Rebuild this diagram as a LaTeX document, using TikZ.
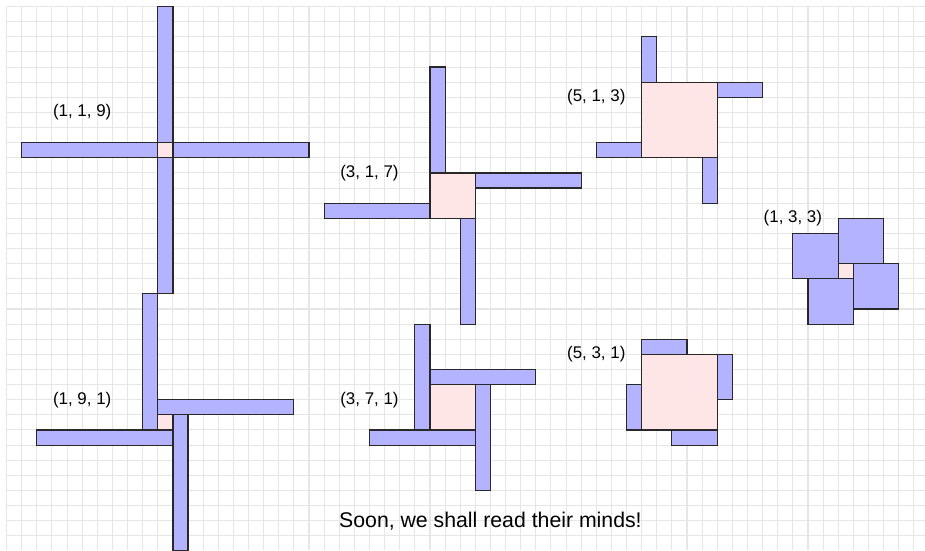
\documentclass[tikz,border=0pt]{standalone}
\usepackage{fontspec}
\setmainfont{Liberation Sans}
\definecolor{pwblue}{RGB}{179,179,255}
\definecolor{pwpink}{RGB}{255,230,230}
\definecolor{pwedge}{RGB}{40,40,40}
\definecolor{pwgrid}{RGB}{230,230,230}

\begin{document}
\begin{tikzpicture}[x=0.5cm, y=-0.5cm,
        gridline/.style={pwgrid, line width=1pt},
        arm/.style={fill=pwblue, draw=pwedge, line width=1.1pt},
        hole/.style={fill=pwpink, draw=pwedge, line width=1.1pt},
        tag/.style={font=\fontsize{15.9}{19}\selectfont},
        motto/.style={font=\fontsize{20}{24}\selectfont}
      ]
        \useasboundingbox (-0.4365,-0.4365) rectangle (60.74,35.94);
        \fill[white] (-0.4365,-0.4365) rectangle (60.74,35.94);
        \foreach \i in {0,...,60} \draw[gridline] (\i,0) -- (\i,35.94);
        \foreach \j in {0,...,35} \draw[gridline] (0,\j) -- (60.74,\j);

        \draw[arm]  (10,0)  rectangle (11,9);
        \draw[arm]  (1,9)   rectangle (10,10);
        \draw[arm]  (11,9)  rectangle (20,10);
        \draw[arm]  (10,10) rectangle (11,19);
        \draw[hole] (10,9)  rectangle (11,10);
        \node[tag] (t119) at (5,7) {(1, 1, 9)};

        \draw[arm]  (9,19)  rectangle (10,28);
        \draw[arm]  (10,26) rectangle (19,27);
        \draw[arm]  (2,28)  rectangle (11,29);
        \draw[arm]  (11,27) rectangle (12,36);
        \draw[hole] (10,27) rectangle (11,28);
        \node[tag] (t191) at (5,26) {(1, 9, 1)};

        \draw[arm]  (28,4)  rectangle (29,11);
        \draw[arm]  (31,11) rectangle (38,12);
        \draw[arm]  (21,13) rectangle (28,14);
        \draw[arm]  (30,14) rectangle (31,21);
        \draw[hole] (28,11) rectangle (31,14);
        \node[tag] (t317) at (24,11) {(3, 1, 7)};

        \draw[arm]  (27,21) rectangle (28,28);
        \draw[arm]  (28,24) rectangle (35,25);
        \draw[arm]  (24,28) rectangle (31,29);
        \draw[arm]  (31,25) rectangle (32,32);
        \draw[hole] (28,25) rectangle (31,28);
        \node[tag] (t371) at (24,26) {(3, 7, 1)};

        \draw[arm]  (42,2)  rectangle (43,5);
        \draw[arm]  (47,5)  rectangle (50,6);
        \draw[arm]  (39,9)  rectangle (42,10);
        \draw[arm]  (46,10) rectangle (47,13);
        \draw[hole] (42,5)  rectangle (47,10);
        \node[tag] (t513) at (39,6) {(5, 1, 3)};

        \draw[arm]  (42,22) rectangle (45,23);
        \draw[arm]  (47,23) rectangle (48,26);
        \draw[arm]  (41,25) rectangle (42,28);
        \draw[arm]  (44,28) rectangle (47,29);
        \draw[hole] (42,23) rectangle (47,28);
        \node[tag] (t531) at (39,23) {(5, 3, 1)};

        \draw[arm]  (52,15) rectangle (55,18);
        \draw[arm]  (55,14) rectangle (58,17);
        \draw[arm]  (56,17) rectangle (59,20);
        \draw[arm]  (53,18) rectangle (56,21);
        \draw[hole] (55,17) rectangle (56,18);
        \node[tag] (t133) at (52,14) {(1, 3, 3)};

        \node[motto] (soon) at (32,34) {Soon, we shall read their minds!};
      \end{tikzpicture}
\end{document}
